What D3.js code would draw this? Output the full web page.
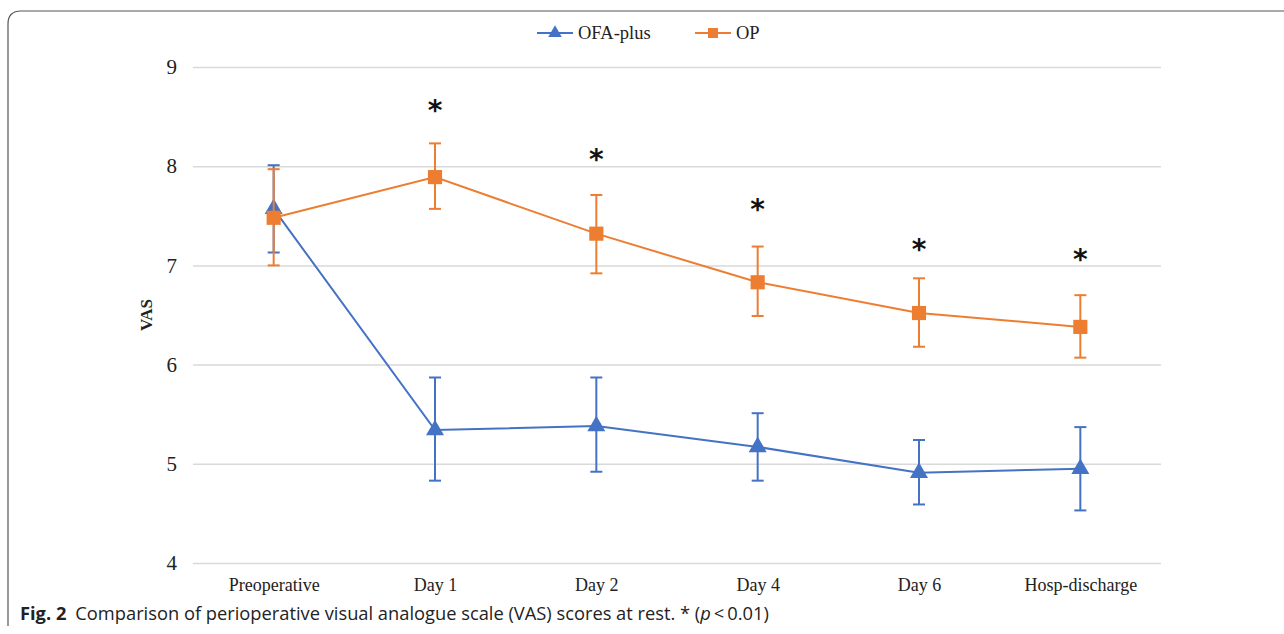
<!DOCTYPE html>
<html><head><meta charset="utf-8">
<script src="https://cdn.jsdelivr.net/npm/d3@7"></script>
<style>body{margin:0;background:#fff}svg{display:block}</style>
</head><body>
<svg id="c" width="1284" height="634"></svg>
<script>
const categories = ["Preoperative","Day 1","Day 2","Day 4","Day 6","Hosp-discharge"];
const ofaMean = [7.57,5.34,5.38,5.17,4.91,4.95];
const ofaUpper = [8.01,5.87,5.87,5.51,5.24,5.37];
const ofaLower = [7.13,4.83,4.92,4.83,4.59,4.53];
const opMean = [7.48,7.89,7.32,6.83,6.52,6.38];
const opUpper = [7.97,8.23,7.71,7.19,6.87,6.70];
const opLower = [7.00,7.57,6.92,6.49,6.18,6.07];
const starCats = ["Day 1","Day 2","Day 4","Day 6","Hosp-discharge"];
const starPos = [8.63,8.13,7.63,7.23,7.12];
const yTicks = [4,5,6,7,8,9];

const svg = d3.select("#c");
const blue = "#4472C4", orange = "#ED7D31";

// frame
svg.append("path").attr("d","M8,626 L8,24 Q8,11 21,11 L1290,11")
  .attr("fill","none").attr("stroke","#555").attr("stroke-width",1.2);

const x = d3.scalePoint().domain(categories).range([193,1161]).padding(0.5);
const y = d3.scaleLinear().domain([4,9]).range([563,67]);

// grid
const yAxis = d3.axisLeft(y).tickValues(yTicks).tickSize(-(1161-193)).tickFormat(d3.format("d"));
const gy = svg.append("g").attr("transform","translate(193,0)").call(yAxis);
gy.select(".domain").remove();
gy.selectAll(".tick line").attr("stroke","#d9d9d9").attr("stroke-width",1.5);
gy.selectAll(".tick text").attr("x",-16).attr("font-family","Liberation Serif").attr("font-size",21).attr("fill","#222");

const xAxis = d3.axisBottom(x).tickSize(0);
const gx = svg.append("g").attr("transform","translate(0,563)").call(xAxis);
gx.select(".domain").remove();
gx.selectAll(".tick text").attr("dy",0).attr("y",28).attr("font-family","Liberation Serif").attr("font-size",18).attr("fill","#222");

svg.append("text").attr("transform","translate(152,315) rotate(-90)").attr("text-anchor","middle")
  .attr("font-family","Liberation Serif").attr("font-weight","bold").attr("font-size",17).attr("fill","#222").text("VAS");

function series(mean, up, lo, color, marker){
  const g = svg.append("g");
  const idx = d3.range(categories.length);
  idx.forEach(i=>{
    const cx = x(categories[i]);
    g.append("line").attr("x1",cx).attr("x2",cx).attr("y1",y(up[i])).attr("y2",y(lo[i])).attr("stroke",color).attr("stroke-width",2);
    [up[i],lo[i]].forEach(v=>g.append("line").attr("x1",cx-6).attr("x2",cx+6).attr("y1",y(v)).attr("y2",y(v)).attr("stroke",color).attr("stroke-width",2));
  });
  g.append("path").datum(idx).attr("fill","none").attr("stroke",color).attr("stroke-width",2)
    .attr("d",d3.line().x(i=>x(categories[i])).y(i=>y(mean[i])));
  const sym = d3.symbol().type(marker).size(marker===d3.symbolSquare?200:140);
  g.selectAll("path.m").data(idx).enter().append("path").attr("class","m")
    .attr("transform",i=>`translate(${x(categories[i])},${y(mean[i])})`)
    .attr("d",sym).attr("fill",color);
}
series(ofaMean,ofaUpper,ofaLower,blue,d3.symbolTriangle);
series(opMean,opUpper,opLower,orange,d3.symbolSquare);

// asterisks
svg.selectAll("text.star").data(starCats).enter().append("text").attr("class","star")
  .attr("x",d=>x(d)).attr("y",(d,i)=>y(starPos[i])+16).attr("text-anchor","middle")
  .attr("font-family","DejaVu Sans").attr("font-weight","bold").attr("font-size",28).attr("fill","#111").text("*");

// legend
const lg = svg.append("g");
const legendItems = [{n:"OFA-plus",c:blue,m:d3.symbolTriangle,x:537},{n:"OP",c:orange,m:d3.symbolSquare,x:695}];
legendItems.forEach(it=>{
  lg.append("line").attr("x1",it.x).attr("x2",it.x+36).attr("y1",33).attr("y2",33).attr("stroke",it.c).attr("stroke-width",2);
  lg.append("path").attr("transform",`translate(${it.x+18},33)`).attr("d",d3.symbol().type(it.m).size(it.m===d3.symbolSquare?100:80)).attr("fill",it.c);
  lg.append("text").attr("x",it.x+41).attr("y",39).attr("font-family","Liberation Serif").attr("font-size",18.5).attr("fill","#222").text(it.n);
});

// caption
const cap = svg.append("text").attr("x",20).attr("y",620).attr("font-family","Open Sans").attr("font-size",18.3).attr("fill","#222");
cap.append("tspan").attr("font-weight","bold").text("Fig. 2");
cap.append("tspan").attr("dx",9).text("Comparison of perioperative visual analogue scale (VAS) scores at rest. * (");
cap.append("tspan").attr("font-style","italic").text("p");
cap.append("tspan").text("\u2009<\u20090.01)");
</script>
</body></html>
